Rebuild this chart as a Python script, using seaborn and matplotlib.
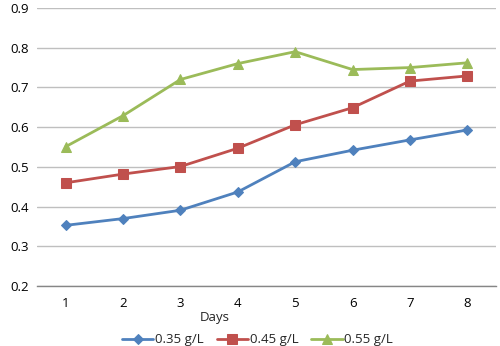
import numpy as np
import pandas as pd
import seaborn as sns
import matplotlib
matplotlib.use("Agg")
import matplotlib.pyplot as plt

days = [1, 2, 3, 4, 5, 6, 7, 8]
series_names = ["0.35 g/L", "0.45 g/L", "0.55 g/L"]
low = [0.353, 0.370, 0.391, 0.437, 0.513, 0.542, 0.568, 0.593]
mid = [0.460, 0.482, 0.501, 0.547, 0.606, 0.649, 0.716, 0.729]
high = [0.551, 0.629, 0.720, 0.760, 0.790, 0.745, 0.750, 0.762]
y_ticks = [0.2, 0.3, 0.4, 0.5, 0.6, 0.7, 0.8, 0.9]

df = pd.DataFrame({
    "day": days * 3,
    "value": low + mid + high,
    "series": [s for s in series_names for _ in days],
})

sns.set_style("white")
plt.rcParams['font.family'] = ['Open Sans', 'DejaVu Sans']

fig = plt.figure(figsize=(5, 3.46), dpi=100)
ax = fig.add_axes([0.074, 0.173, 0.918, 0.804])

colors = ["#4F81BD", "#C0504D", "#9BBB59"]
marks = ["D", "s", "^"]
sizes = [5.5, 7, 7.5]
for name, c, m, ms in zip(series_names, colors, marks, sizes):
    sub = df[df["series"] == name]
    sns.lineplot(data=sub, x="day", y="value", color=c, marker=m, markersize=ms,
                 markeredgecolor=c, linewidth=2, label=name, ax=ax)

ax.set_xlim(0.5, 8.5)
ax.set_ylim(0.2, 0.9)
ax.set_yticks(y_ticks)
ax.set_yticklabels([f"{v:.1f}" for v in y_ticks])
ax.set_xticks(days)
ax.yaxis.grid(True, color="#BFBFBF", linewidth=1)
ax.set_axisbelow(True)
for s in ["top", "right", "left"]:
    ax.spines[s].set_visible(False)
ax.spines["bottom"].set_color("#868686")
ax.spines["bottom"].set_linewidth(1)
ax.tick_params(axis="both", length=0, labelsize=9.5, colors="#000000")
ax.tick_params(axis="x", pad=8)
ax.tick_params(axis="y", pad=6)
ax.set_xlabel("")
ax.set_ylabel("")

fig.text(0.43, 0.063, "Days", ha="center", va="bottom", fontsize=9.5)

handles, labels = ax.get_legend_handles_labels()
ax.get_legend().remove()
fig.legend(handles, labels, loc="lower center", bbox_to_anchor=(0.515, -0.035), ncol=3,
           frameon=False, fontsize=9.5, handlelength=2.4, handletextpad=0.1,
           columnspacing=1.0, numpoints=1)

fig.savefig("out.png", dpi=100)
